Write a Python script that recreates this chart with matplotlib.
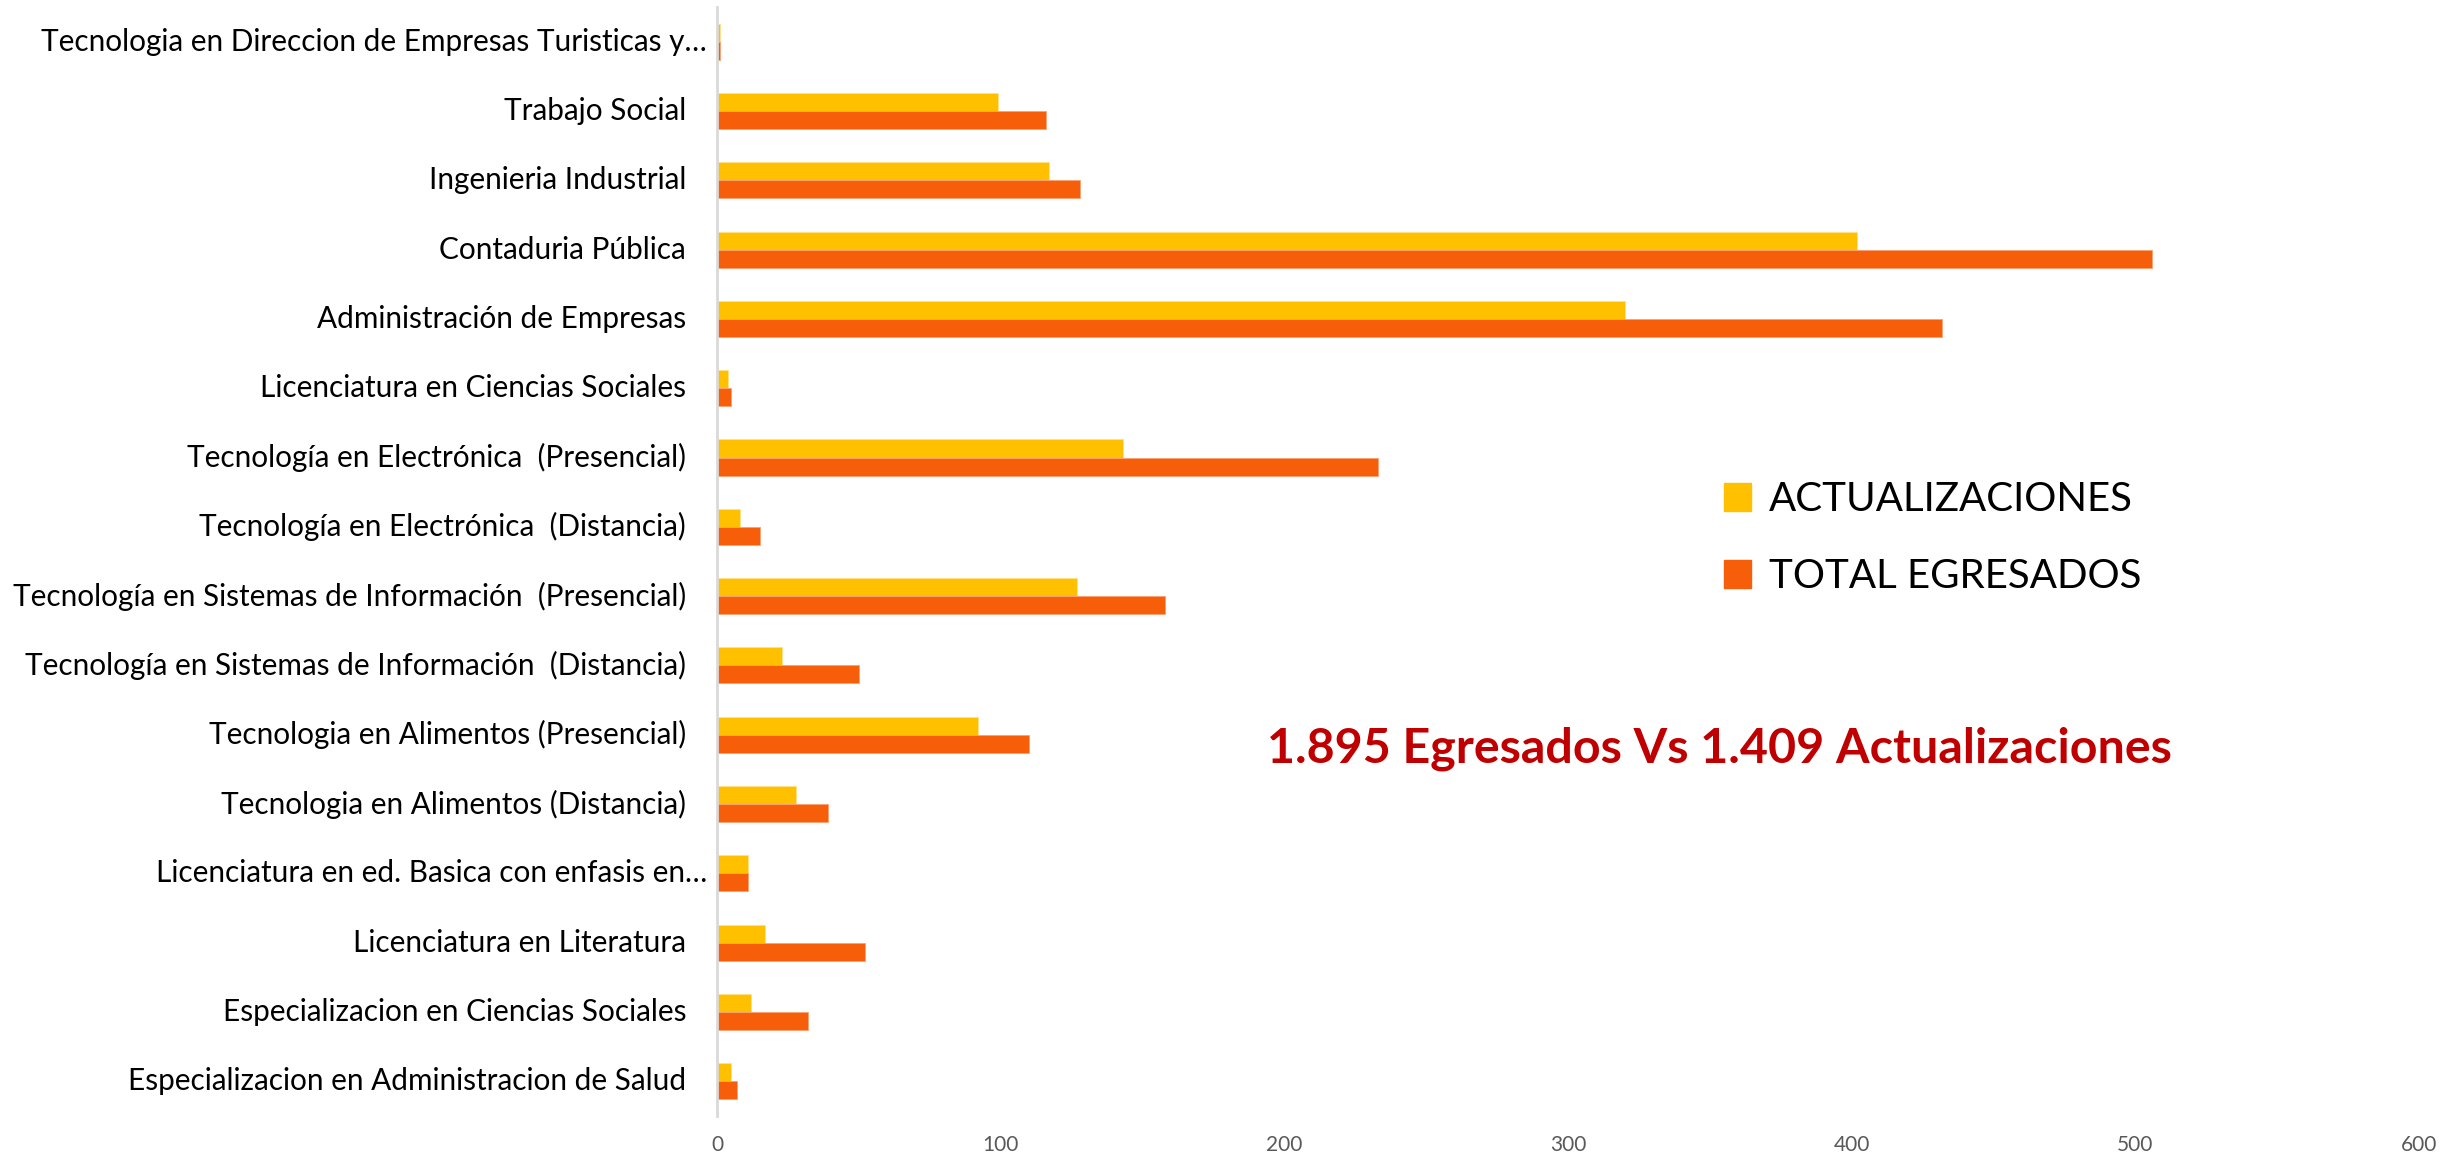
import numpy as np
import matplotlib
matplotlib.use("Agg")
import matplotlib.pyplot as plt
from matplotlib.patches import Patch

plt.rcParams['font.family'] = ['Lato', 'DejaVu Sans']

programas = [
    "Tecnologia en Direccion de Empresas Turisticas y…",
    "Trabajo Social",
    "Ingenieria Industrial",
    "Contaduria Pública",
    "Administración de Empresas",
    "Licenciatura en Ciencias Sociales",
    "Tecnología en Electrónica  (Presencial)",
    "Tecnología en Electrónica  (Distancia)",
    "Tecnología en Sistemas de Información  (Presencial)",
    "Tecnología en Sistemas de Información  (Distancia)",
    "Tecnologia en Alimentos (Presencial)",
    "Tecnologia en Alimentos (Distancia)",
    "Licenciatura en ed. Basica con enfasis en…",
    "Licenciatura en Literatura",
    "Especializacion en Ciencias Sociales",
    "Especializacion en Administracion de Salud",
]
actualizaciones = [1, 99, 117, 402, 320, 4, 143, 8, 127, 23, 92, 28, 11, 17, 12, 5]
total_egresados = [1, 116, 128, 506, 432, 5, 233, 15, 158, 50, 110, 39, 11, 52, 32, 7]
xticks = [0, 100, 200, 300, 400, 500, 600]

amarillo = '#FFC000'
naranja = '#F75E0A'

fig = plt.figure(figsize=(24.59, 11.59), dpi=100)
ax = fig.add_axes([0.2916, 0.0371, 0.6921, 0.9569])

y = np.arange(len(programas))
h = 0.26
ax.barh(y - h / 2, actualizaciones, height=h, color=amarillo,
        edgecolor='#FFE08A', linewidth=0.6, label='ACTUALIZACIONES')
ax.barh(y + h / 2, total_egresados, height=h, color=naranja,
        edgecolor='#FBA070', linewidth=0.6, label='TOTAL EGRESADOS')

ax.set_ylim(len(programas) - 0.5, -0.5)
ax.set_xlim(0, 600)
ax.set_xticks(xticks)
ax.tick_params(axis='x', length=0, pad=14, labelsize=15, labelcolor='#595959')
ax.set_yticks([])

for s in ['top', 'right', 'bottom']:
    ax.spines[s].set_visible(False)
ax.spines['left'].set_color('#D9D9D9')
ax.spines['left'].set_linewidth(2)

# etiquetas de categoria (las truncadas quedan mas cerca del eje)
trans = ax.get_yaxis_transform()
for yi, nombre in zip(y, programas):
    off = -10 / 1702 if nombre.endswith('…') else -31 / 1702
    ax.text(off, yi, nombre, transform=trans, ha='right', va='center',
            fontsize=21.4, color='black')

handles = [Patch(color=amarillo, label='ACTUALIZACIONES'),
           Patch(color=naranja, label='TOTAL EGRESADOS')]
fig.legend(handles=handles, loc='upper left', bbox_to_anchor=(0.701, 0.585),
           frameon=False, fontsize=29, handlelength=0.67, handleheight=0.67,
           handletextpad=0.45, labelspacing=1.0, borderpad=0, borderaxespad=0)

fig.text(0.5153, 0.3417, "1.895 Egresados Vs 1.409 Actualizaciones",
         fontsize=34.8, fontweight='bold', color='#C00000', va='baseline')

fig.savefig('out.png', dpi=100, facecolor='white')
